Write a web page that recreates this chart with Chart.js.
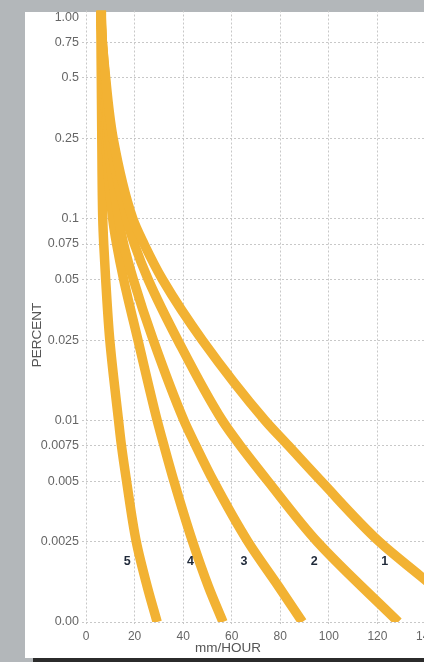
<!DOCTYPE html>
<html><head><meta charset="utf-8">
<script src="https://cdn.jsdelivr.net/npm/chart.js@4.4.0/dist/chart.umd.min.js"></script>
<style>
html,body{margin:0;padding:0;width:424px;height:662px;overflow:hidden;background:#b3b7ba;}
#paper{position:absolute;left:25px;top:12px;width:399px;height:646px;background:#fff;}
#edge{position:absolute;left:33px;top:658px;width:391px;height:4px;background:#2b2b2b;}
#wrap{position:absolute;left:0;top:0;width:440px;height:662px;}
</style></head><body>
<div id="paper"></div><div id="edge"></div>
<div id="wrap"><canvas id="c" width="440" height="662"></canvas></div>
<script>
// ---- data ----
const rateTicks = [0, 20, 40, 60, 80, 100, 120, 140];
const pctTicks = [1, 0.75, 0.5, 0.25, 0.1, 0.075, 0.05, 0.025, 0.01, 0.0075, 0.005, 0.0025, 0.001];
const pctTickLabels = ["1.00", "0.75", "0.5", "0.25", "0.1", "0.075", "0.05", "0.025", "0.01", "0.0075", "0.005", "0.0025", "0.00"];

const curveNames = ["1", "2", "3", "4", "5"];

const curve1Pct  = [1.08, 1.0, 0.5, 0.25, 0.1, 0.075, 0.05, 0.025, 0.01, 0.0075, 0.005, 0.0025, 0.0017, 0.0014];
const curve1Rate = [6.3, 6.3, 8.1, 11.2, 19.3, 23.9, 31.5, 47.9, 73.7, 83.3, 96.8, 120.8, 137.5, 146];

const curve2Pct  = [1.08, 1.0, 0.5, 0.25, 0.1, 0.075, 0.05, 0.025, 0.01, 0.0075, 0.005, 0.0025, 0.001];
const curve2Rate = [6.3, 6.3, 7.9, 9.8, 16.7, 19.9, 25.6, 37.8, 56.1, 63.5, 74.9, 95.2, 128.6];

const curve3Pct  = [1.08, 1.0, 0.5, 0.25, 0.1, 0.075, 0.05, 0.025, 0.01, 0.0075, 0.005, 0.0025, 0.0015, 0.001];
const curve3Rate = [6.3, 6.3, 7.5, 8.9, 13.4, 15.5, 19.5, 27.7, 40.3, 45.2, 52.5, 66.7, 79.3, 89.1];

const curve4Pct  = [1.08, 1.0, 0.5, 0.25, 0.1, 0.075, 0.05, 0.025, 0.01, 0.0075, 0.005, 0.0025, 0.0015, 0.001];
const curve4Rate = [6.3, 6.3, 7.1, 8.1, 11.0, 12.6, 15.5, 21.4, 29.3, 32.1, 36.2, 43.9, 50.4, 56.4];

const curve5Pct  = [1.08, 1.0, 0.5, 0.25, 0.1, 0.075, 0.05, 0.025, 0.01, 0.0075, 0.005, 0.0025, 0.0015, 0.001];
const curve5Rate = [6.1, 6.1, 6.3, 6.5, 6.9, 7.3, 8.1, 9.8, 13.4, 14.6, 16.7, 20.7, 25.2, 29.3];

const labelRate = [123, 94, 65, 43, 17];
const labelPct = [0.002, 0.002, 0.002, 0.002, 0.002];

const xTitle = "mm/HOUR";
const yTitle = "PERCENT";

// ---- build chart ----
const curves = [
  [curve1Rate, curve1Pct], [curve2Rate, curve2Pct], [curve3Rate, curve3Pct],
  [curve4Rate, curve4Pct], [curve5Rate, curve5Pct]
];
const lineColor = '#F2B233';
const gridColor = '#c8c8c8';
const FONT = '"Liberation Sans", Arial, Helvetica, sans-serif';

const datasets = curves.map((c, k) => ({
  label: curveNames[k],
  data: c[0].map((r, i) => ({x: r, y: c[1][i]})),
  indexAxis: 'y',
  borderColor: lineColor,
  backgroundColor: lineColor,
  borderWidth: 9.5,
  pointRadius: 0,
  fill: false,
  cubicInterpolationMode: 'monotone',
  borderCapStyle: 'butt',
  borderJoinStyle: 'round',
  clip: 0
}));

const annot = {
  id: 'annot',
  afterDatasetsDraw(chart) {
    const {ctx, scales} = chart;
    ctx.save();
    ctx.fillStyle = '#1f2939';
    ctx.font = 'bold 12.5px ' + FONT;
    ctx.textAlign = 'center';
    ctx.textBaseline = 'middle';
    labelRate.forEach((r, i) => {
      ctx.fillText(curveNames[i], scales.x.getPixelForValue(r), scales.y.getPixelForValue(labelPct[i]));
    });
    ctx.restore();
  },
  afterDraw(chart) {
    const {ctx} = chart;
    ctx.save();
    ctx.fillStyle = '#555';
    ctx.font = '13.5px ' + FONT;
    ctx.textAlign = 'center';
    ctx.textBaseline = 'middle';
    ctx.fillText(xTitle, 228, 648);
    ctx.translate(37, 335);
    ctx.rotate(-Math.PI / 2);
    ctx.fillText(yTitle, 0, 0);
    ctx.restore();
  }
};

new Chart(document.getElementById('c'), {
  type: 'line',
  data: {datasets},
  options: {
    responsive: false,
    animation: false,
    devicePixelRatio: 1,
    layout: {padding: {left: 0, right: 14, top: 10, bottom: 0}},
    plugins: {legend: {display: false}, tooltip: {enabled: false}},
    scales: {
      x: {
        type: 'linear', min: 0, max: 140,
        afterBuildTicks: s => { s.ticks = rateTicks.map(v => ({value: v})); },
        afterFit: s => { s.height = 40; },
        ticks: {autoSkip: false, maxRotation: 0, padding: 3, color: '#666', font: {family: FONT, size: 12}},
        grid: {color: gridColor, lineWidth: 1, tickLength: 4, tickColor: gridColor, tickBorderDash: [2, 2]},
        border: {display: false, dash: [2, 2]}
      },
      y: {
        type: 'logarithmic', min: 0.001, max: 1.08,
        afterBuildTicks: s => { s.ticks = pctTicks.map(v => ({value: v})); },
        afterFit: s => { s.width = 86; },
        ticks: {
          autoSkip: false, padding: 3, color: '#666', font: {family: FONT, size: 12.5},
          callback: v => { const i = pctTicks.indexOf(v); return i >= 0 ? pctTickLabels[i] : ''; }
        },
        grid: {
          color: c => (c.tick && c.tick.value === 1) ? 'rgba(0,0,0,0)' : gridColor,
          tickColor: c => (c.tick && c.tick.value === 1) ? 'rgba(0,0,0,0)' : gridColor,
          lineWidth: 1, tickLength: 4, tickBorderDash: [2, 2]
        },
        border: {display: false, dash: [2, 2]}
      }
    }
  },
  plugins: [annot]
});
</script>
</body></html>
